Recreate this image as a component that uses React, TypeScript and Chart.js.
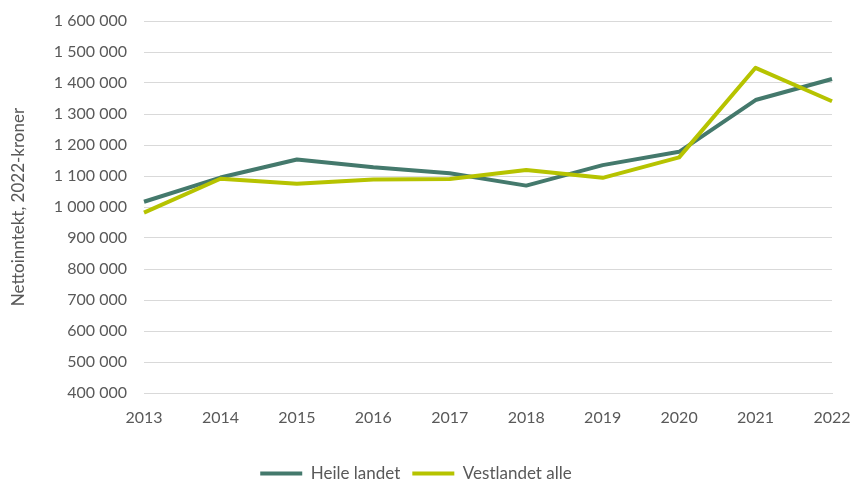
import React, { useEffect, useRef } from "react";
import { Chart, registerables } from "chart.js";

Chart.register(...registerables);

const years = ["2013", "2014", "2015", "2016", "2017", "2018", "2019", "2020", "2021", "2022"];
const heileLandet = [1017000, 1095000, 1153000, 1128000, 1109000, 1069000, 1135000, 1178000, 1345000, 1413000];
const vestlandetAlle = [982000, 1091000, 1075000, 1089000, 1090000, 1119000, 1094000, 1160000, 1449000, 1341000];
const seriesNames = ["Heile landet", "Vestlandet alle"];
const yTitle = "Nettoinntekt, 2022-kroner";

const TEAL = "#44796C";
const LIME = "#B6C300";
const TEXT = "#595959";
const GRID = "#D9D9D9";
const FONT = "Lato, 'Open Sans', sans-serif";

const fmt = (v: number) => String(v).replace(/\B(?=(\d{3})+(?!\d))/g, " ");

export default function App() {
  const ref = useRef<HTMLCanvasElement | null>(null);
  useEffect(() => {
    if (!ref.current) return;
    const chart = new Chart(ref.current, {
      type: "line",
      data: {
        labels: years,
        datasets: [
          {
            label: seriesNames[0],
            data: heileLandet,
            borderColor: TEAL,
            backgroundColor: TEAL,
            borderWidth: 4,
            pointRadius: 0,
            tension: 0,
            borderJoinStyle: "round",
            order: 2,
          },
          {
            label: seriesNames[1],
            data: vestlandetAlle,
            borderColor: LIME,
            backgroundColor: LIME,
            borderWidth: 4,
            pointRadius: 0,
            tension: 0,
            borderJoinStyle: "round",
            order: 1,
          },
        ],
      },
      options: {
        animation: false,
        responsive: false,
        maintainAspectRatio: false,
        layout: { padding: { left: 0, right: 20, top: 21, bottom: -10 } },
        plugins: {
          tooltip: { enabled: false },
          legend: {
            position: "bottom",
            labels: {
              color: TEXT,
              font: { family: FONT, size: 17 },
              boxWidth: 42,
              boxHeight: 4,
              padding: 12,
              useBorderRadius: true,
              borderRadius: 2,
              generateLabels: (c: any) =>
                c.data.datasets.map((d: any, i: number) => ({
                  text: d.label,
                  fillStyle: d.borderColor,
                  strokeStyle: d.borderColor,
                  lineWidth: 0,
                  fontColor: TEXT,
                  datasetIndex: i,
                  hidden: false,
                })),
            },
          },
        },
        scales: {
          x: {
            offset: false,
            grid: { display: true, color: "transparent", drawTicks: true, tickLength: 15, tickColor: "transparent" },
            border: { display: true, color: GRID, width: 1 },
            ticks: { color: TEXT, font: { family: FONT, size: 16 }, padding: 0, maxRotation: 0 },
            afterFit: (s: any) => {
              s.height = 60;
            },
          },
          y: {
            min: 400000,
            max: 1600000,
            grid: { color: GRID, lineWidth: 1, drawTicks: true, tickLength: 17, tickColor: "transparent" },
            border: { display: false },
            ticks: {
              stepSize: 100000,
              color: TEXT,
              font: { family: FONT, size: 16 },
              padding: 0,
              callback: (v: any) => fmt(Number(v)),
            },
            title: {
              display: true,
              text: yTitle,
              color: TEXT,
              font: { family: FONT, size: 17 },
              padding: { top: 8, bottom: 0 },
            },
            afterFit: (s: any) => {
              s.width = 144;
            },
          },
        },
      },
    });
    return () => chart.destroy();
  }, []);
  return (
    <div style={{ position: "fixed", left: 0, top: 0, width: 852, height: 482, background: "#fff" }}>
      <canvas ref={ref} width={852} height={482} style={{ width: 852, height: 482, display: "block" }} />
    </div>
  );
}
